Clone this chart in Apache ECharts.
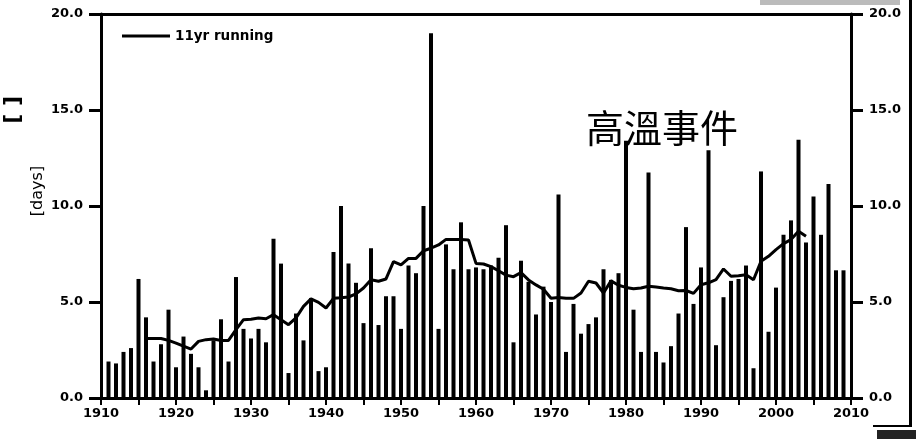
<!DOCTYPE html>
<html>
<head>
<meta charset="utf-8">
<script src="https://cdn.jsdelivr.net/npm/echarts@6/dist/echarts.min.js"></script>
<style>html,body{margin:0;padding:0;background:#fff;}#c{width:916px;height:439px;}</style>
</head>
<body>
<div id="c"></div>
<script>
var years = [];
for (var y = 1911; y <= 2009; y++) years.push(y);
var days = [
  1.9, 1.8, 2.4, 2.6, 6.2, 4.2, 1.9, 2.8, 4.6, 1.6,
  3.2, 2.3, 1.6, 0.4, 3.0, 4.1, 1.9, 6.3, 3.6, 3.1,
  3.6, 2.9, 8.3, 7.0, 1.3, 4.4, 3.0, 5.2, 1.4, 1.6,
  7.6, 10.0, 7.0, 6.0, 3.9, 7.8, 3.8, 5.3, 5.3, 3.6,
  6.9, 6.5, 10.0, 19.0, 3.6, 8.0, 6.7, 9.15, 6.7, 6.8,
  6.7, 6.9, 7.3, 9.0, 2.9, 7.15, 6.05, 4.35, 5.8, 5.0,
  10.6, 2.4, 4.9, 3.35, 3.85, 4.2, 6.7, 6.15, 6.5, 13.4,
  4.6, 2.4, 11.75, 2.4, 1.85, 2.7, 4.4, 8.9, 4.9, 6.8,
  12.9, 2.75, 5.25, 6.1, 6.2, 6.9, 1.55, 11.8, 3.45, 5.75,
  8.5, 9.25, 13.45, 8.1, 10.5, 8.5, 11.15, 6.65, 6.65
];
var runYears = [];
for (var r = 1916; r <= 2004; r++) runYears.push(r);
var running = [
  3.1, 3.1, 3.1, 3.0, 2.86, 2.7, 2.55, 2.95, 3.04, 3.07,
  3.0, 3.0, 3.56, 4.08, 4.1, 4.17, 4.13, 4.34, 4.08, 3.82,
  4.17, 4.77, 5.16, 4.98, 4.69, 5.19, 5.22, 5.26, 5.42, 5.73,
  6.16, 6.08, 6.2, 7.1, 6.93, 7.27, 7.27, 7.67, 7.8, 7.97,
  8.26, 8.26, 8.26, 8.23, 7.01, 6.98, 6.84, 6.63, 6.4, 6.32,
  6.53, 6.15, 5.89, 5.66, 5.2, 5.24, 5.19, 5.19, 5.47, 6.08,
  5.99, 5.47, 6.1, 5.87, 5.76, 5.69, 5.73, 5.82, 5.78, 5.73,
  5.69, 5.59, 5.6, 5.45, 5.9, 6.0, 6.16, 6.72, 6.34, 6.37,
  6.42, 6.16, 7.12, 7.38, 7.73, 8.04, 8.25, 8.68, 8.42
];
var yTicks = [0, 5, 10, 15, 20];
var xLabelYears = [1910, 1920, 1930, 1940, 1950, 1960, 1970, 1980, 1990, 2000, 2010];
var titleText = '高溫事件';
var legendName = '11yr running';
var yName = '[days]';

var barData = years.map(function (yr, i) { return [yr, days[i]]; });
var lineData = runYears.map(function (yr, i) { return [yr, running[i]]; });

var FONT = 'DejaVu Sans';
var chart = echarts.init(document.getElementById('c'), null, { renderer: 'canvas' });
var yAxisBase = function (pos) {
  return {
    type: 'value', position: pos, min: yTicks[0], max: yTicks[yTicks.length - 1], interval: 5,
    axisLine: { show: true, lineStyle: { color: '#000', width: 3 } },
    axisTick: { show: true, length: 12, lineStyle: { color: '#000', width: 3 } },
    axisLabel: { color: '#000', fontFamily: FONT, fontWeight: 'bold', fontSize: 13, margin: 18,
      formatter: function (v) { return v.toFixed(1); } },
    splitLine: { show: false }
  };
};
chart.setOption({
  animation: false,
  backgroundColor: '#fff',
  grid: { left: 101, right: 65, top: 14, bottom: 41, containLabel: false },
  title: {
    text: titleText, left: 581, top: 104,
    textStyle: { fontFamily: 'Noto Sans CJK TC', fontWeight: 'normal', fontSize: 38, color: '#000' }
  },
  legend: {
    data: [legendName], left: 117, top: 24, icon: 'rect', itemWidth: 48, itemHeight: 3, itemGap: 6,
    textStyle: { fontFamily: FONT, fontSize: 13.5, fontWeight: 'bold', color: '#000' }
  },
  xAxis: [{
    type: 'value', min: 1910, max: 2010, interval: 5,
    axisLine: { show: true, onZero: false, lineStyle: { color: '#000', width: 3 } },
    axisTick: { show: true, length: 7, lineStyle: { color: '#000', width: 2 } },
    axisLabel: { color: '#000', fontFamily: FONT, fontWeight: 'bold', fontSize: 13, margin: 9,
      formatter: function (v) { return xLabelYears.indexOf(v) >= 0 ? String(v) : ''; } },
    splitLine: { show: false }
  }, {
    type: 'value', position: 'top', min: 1910, max: 2010,
    axisLine: { show: true, onZero: false, lineStyle: { color: '#000', width: 3 } },
    axisTick: { show: false }, axisLabel: { show: false }, splitLine: { show: false }
  }],
  yAxis: [yAxisBase('left'), yAxisBase('right')],
  series: [{
    type: 'bar', name: 'days', xAxisIndex: 0, yAxisIndex: 0, data: barData, barWidth: 4,
    itemStyle: { color: '#000' }, silent: true
  }, {
    type: 'line', name: legendName, xAxisIndex: 0, yAxisIndex: 0, data: lineData,
    showSymbol: false, symbol: 'none', lineStyle: { color: '#000', width: 3 }, itemStyle: { color: '#000' }
  }],
  graphic: [
    { type: 'text', x: 38, y: 191, rotation: Math.PI / 2,
      style: { text: yName, font: '16px ' + FONT, fill: '#000', align: 'center', verticalAlign: 'middle' } },
    { type: 'text', left: 2, top: 96, rotation: Math.PI / 2,
      style: { text: '[ ]', font: 'bold 22px ' + FONT, fill: '#000' } },
    { type: 'rect', shape: { x: 909, y: 0, width: 3, height: 427 }, style: { fill: '#000' } },
    { type: 'rect', shape: { x: 873, y: 425, width: 39, height: 2 }, style: { fill: '#000' } },
    { type: 'rect', shape: { x: 877, y: 430, width: 39, height: 9 }, style: { fill: '#222' } },
    { type: 'rect', shape: { x: 760, y: 0, width: 140, height: 5 }, style: { fill: '#bbb' } }
  ]
});
</script>
</body>
</html>
